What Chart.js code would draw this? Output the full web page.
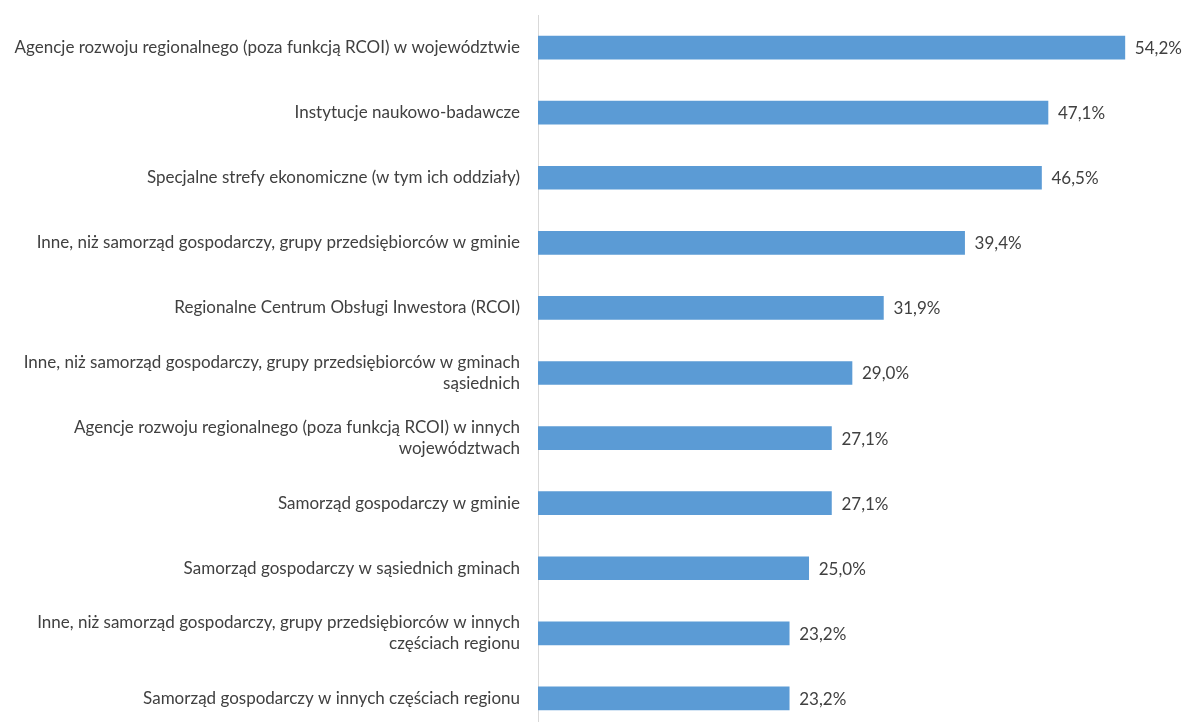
<!DOCTYPE html>
<html>
<head>
<meta charset="utf-8">
<script src="https://cdn.jsdelivr.net/npm/chart.js@4/dist/chart.umd.min.js"></script>
<style>
  html, body { margin: 0; padding: 0; background: #fff; overflow: hidden; }
  #wrap { width: 1184px; height: 745px; }
</style>
</head>
<body>
<div id="wrap"><canvas id="bar-chart"></canvas></div>
<script>
// Category labels (multi-line where the original wraps)
const categories = [
    'Agencje rozwoju regionalnego (poza funkcją RCOI) w województwie',
    'Instytucje naukowo-badawcze',
    'Specjalne strefy ekonomiczne (w tym ich oddziały)',
    'Inne, niż samorząd gospodarczy, grupy przedsiębiorców w gminie',
    'Regionalne Centrum Obsługi Inwestora (RCOI)',
    ['Inne, niż samorząd gospodarczy, grupy przedsiębiorców w gminach', 'sąsiednich'],
    ['Agencje rozwoju regionalnego (poza funkcją RCOI) w innych', 'województwach'],
    'Samorząd gospodarczy w gminie',
    'Samorząd gospodarczy w sąsiednich gminach',
    ['Inne, niż samorząd gospodarczy, grupy przedsiębiorców w innych', 'częściach regionu'],
    'Samorząd gospodarczy w innych częściach regionu'
];

// Share of respondents (%)
const shares = [54.2, 47.1, 46.5, 39.4, 31.9, 29.0, 27.1, 27.1, 25.0, 23.2, 23.2];

const FONT = 'Lato, "Open Sans", sans-serif';

// Simple value labels at the end of each bar (no datalabels plugin available)
const valueLabels = {
    id: 'valueLabels',
    afterDatasetsDraw(chart) {
        const ctx = chart.ctx;
        const meta = chart.getDatasetMeta(0);
        ctx.save();
        ctx.font = '17px ' + FONT;
        ctx.fillStyle = '#404040';
        ctx.textAlign = 'left';
        ctx.textBaseline = 'middle';
        meta.data.forEach((bar, i) => {
            const txt = shares[i].toFixed(1).replace('.', ',') + '%';
            ctx.fillText(txt, bar.x + 10, bar.y + 1);
        });
        ctx.restore();
    }
};

const ctx = document.getElementById('bar-chart').getContext('2d');
const chart = new Chart(ctx, {
    type: 'bar',
    data: {
        labels: categories,
        datasets: [{
            data: shares,
            backgroundColor: '#5b9bd5',
            borderWidth: 0,
            barThickness: 23
        }]
    },
    options: {
        indexAxis: 'y',
        responsive: true,
        maintainAspectRatio: false,
        animation: false,
        layout: { padding: { top: 15, bottom: 14, left: 0, right: 18 } },
        scales: {
            x: {
                display: false,
                min: 0,
                max: 58
            },
            y: {
                afterFit(scale) { scale.width = 538; },
                // invisible tick marks give the gap between labels and axis
                grid: { drawOnChartArea: false, drawTicks: true, tickLength: 18, color: 'rgba(0,0,0,0)' },
                border: { display: true, color: '#d9d9d9', width: 1 },
                ticks: {
                    padding: 0,
                    color: '#404040',
                    font: { family: FONT, size: 17, lineHeight: 1.25 }
                }
            }
        },
        plugins: {
            legend: { display: false },
            tooltip: { enabled: false }
        }
    },
    plugins: [valueLabels]
});
</script>
</body>
</html>
